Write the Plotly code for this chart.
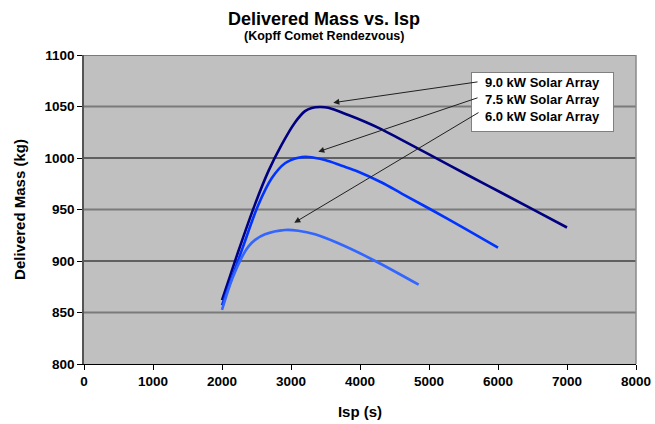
import plotly.graph_objects as go

# ---- data ----
isp_9 = [2000, 2120, 2237, 2478, 2671, 2865, 3058, 3203, 3300, 3420, 3541, 3831, 4072, 4314, 4604, 5014, 5546, 6029, 6512, 7000]
mass_9 = [862, 886, 909.5, 955, 987, 1013, 1034.5, 1045.5, 1048.6, 1049.5, 1048.8, 1041.7, 1035.2, 1027.8, 1017.5, 1003, 984, 967, 949.8, 932.5]

isp_75 = [2000, 2150, 2300, 2526, 2720, 2913, 3106, 3251, 3493, 3735, 3976, 4314, 4604, 5014, 5546, 6000]
mass_75 = [857, 885, 913, 954.4, 980.3, 994.9, 1000.3, 1001, 998, 992.5, 986.7, 976.2, 965.5, 950.5, 930.5, 913]

isp_6 = [2000, 2150, 2310, 2382, 2480, 2623, 2913, 3106, 3348, 3686, 4193, 4850]
mass_6 = [852.5, 883, 906.5, 914, 920.5, 926, 930.1, 929.4, 925.9, 917.2, 901, 877]

series_names = ["9.0 kW Solar Array", "7.5 kW Solar Array", "6.0 kW Solar Array"]
series_colors = ["#000080", "#0033FF", "#3366FF"]

x_ticks = [0, 1000, 2000, 3000, 4000, 5000, 6000, 7000, 8000]
y_ticks = [800, 850, 900, 950, 1000, 1050, 1100]

FONT = "Liberation Sans, Arial, sans-serif"

fig = go.Figure()
for xs, ys, nm, col in zip([isp_9, isp_75, isp_6], [mass_9, mass_75, mass_6], series_names, series_colors):
    fig.add_trace(go.Scatter(x=xs, y=ys, mode="lines", name=nm,
                             line=dict(color=col, width=2.6, shape="spline", smoothing=1.0)))

# gridlines (alternating rendering as in reference)
shapes = []
for v in y_ticks[1:]:
    if v % 100 == 0 and v != 1100:
        shapes.append(dict(type="line", xref="paper", x0=0, x1=1, yref="y", y0=v, y1=v,
                           line=dict(color="#000000", width=1), layer="below"))
    else:
        shapes.append(dict(type="line", xref="paper", x0=0, x1=1, yref="y", y0=v, y1=v,
                           line=dict(color="#7a7a7a", width=2), layer="below"))
# right border
shapes.append(dict(type="line", xref="paper", x0=1, x1=1, yref="paper", y0=0, y1=1,
                   line=dict(color="#8a8a8a", width=1.5), layer="below"))

annotations = [
    dict(text="<b>Delivered Mass vs. Isp</b>", xref="paper", yref="paper", x=0.4348, y=1.1165,
         xanchor="center", yanchor="middle", showarrow=False, font=dict(family=FONT, size=18, color="black")),
    dict(text="<b>(Kopff Comet Rendezvous)</b>", xref="paper", yref="paper", x=0.4348, y=1.063,
         xanchor="center", yanchor="middle", showarrow=False, font=dict(family=FONT, size=12.5, color="black")),
    dict(text="<b>" + "<br>".join(series_names) + "</b>", xref="paper", yref="paper",
         x=0.701, y=0.945, xanchor="left", yanchor="top", align="center", valign="top",
         showarrow=False, width=137, height=54,
         bgcolor="white", bordercolor="#808080", borderwidth=1, borderpad=2,
         font=dict(family=FONT, size=13, color="black")),
]
# arrows: tip near curve peak, tail at label
arrow_tips = [(3613, 1053.7, 145.7, -21.0), (3396, 1006.1, 160.7, -54.4), (3048, 937.2, 185.7, -111.0)]
for tx, ty, ax, ay in arrow_tips:
    annotations.append(dict(x=tx, y=ty, xref="x", yref="y", ax=ax, ay=ay, text="",
                            showarrow=True, arrowhead=2, arrowsize=1.2, arrowwidth=1,
                            arrowcolor="#202020"))

fig.update_layout(
    width=655, height=424,
    margin=dict(l=84, r=19, t=55, b=60),
    paper_bgcolor="white", plot_bgcolor="#C0C0C0",
    showlegend=False,
    font=dict(family=FONT, color="black"),
    shapes=shapes, annotations=annotations,
    xaxis=dict(range=[0, 8000], tickvals=x_ticks, ticktext=[f"<b>{v}</b>" for v in x_ticks],
               showgrid=False, zeroline=False, showline=True, linecolor="black", linewidth=1,
               ticks="outside", ticklen=5, tickcolor="black", tickfont=dict(size=13.5, family=FONT),
               automargin=False,
               title=dict(text="<b>Isp (s)</b>", font=dict(size=15, family=FONT), standoff=18)),
    yaxis=dict(range=[800, 1100], tickvals=y_ticks, ticktext=[f"<b>{v}</b>" for v in y_ticks],
               showgrid=False, zeroline=False, showline=True, linecolor="#555555", linewidth=1.5,
               ticks="outside", ticklen=5, tickcolor="black", tickfont=dict(size=13.5, family=FONT),
               automargin=False,
               title=dict(text="<b>Delivered Mass (kg)</b>", font=dict(size=15, family=FONT), standoff=15)),
)

fig.write_html("out.html", config={"displayModeBar": False},
               post_script="document.body.style.margin='0';document.body.style.overflow='hidden';")
